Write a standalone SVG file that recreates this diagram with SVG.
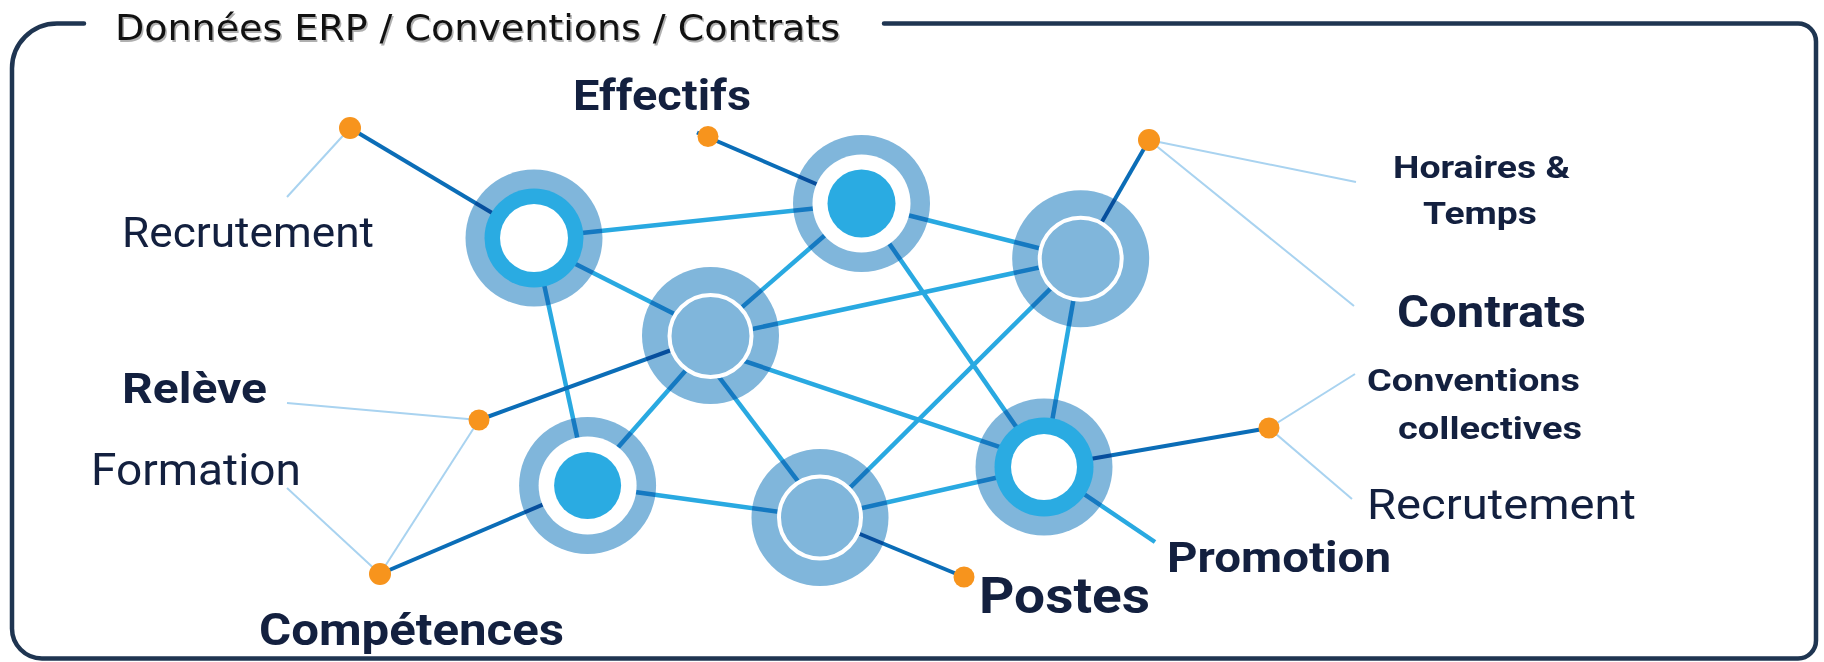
<svg xmlns="http://www.w3.org/2000/svg" width="1824" height="662" viewBox="0 0 1824 662">
<style>
.frame{fill:none;stroke:#1f3551;stroke-width:4.5;stroke-linecap:round}
.link{stroke:#29a9e1;stroke-width:4.5;stroke-linecap:butt}
.dark{stroke:#0b6db7;stroke-width:4;stroke-linecap:butt}
.lead{stroke:#a9d3f0;stroke-width:2}
.halo{fill:#80b6db;mix-blend-mode:multiply}
.cyan{fill:#2aabe2}
.white{fill:#ffffff}
.plain{fill:#80b6db;stroke:#ffffff;stroke-width:4}
.dot{fill:#f7941d}
.lbl{font-family:Roboto,"Liberation Sans",sans-serif;fill:#13203f}
.b{font-weight:bold}
.title{font-family:"DejaVu Sans Condensed","DejaVu Sans","Liberation Sans",sans-serif;font-size:36px;fill:#111111}
.shadow{fill:#b0b0b0}
</style>
<g id="frame">
<path class="frame" d="M84 23.5 H57 A45 45 0 0 0 12 68.5 V628 A30 30 0 0 0 42 658.5 H1798 A18 18 0 0 0 1816 640.5 V41.5 A18 18 0 0 0 1798 23.5 H884"/>
<text x="116.5" y="41.5" class="title shadow" textLength="725" lengthAdjust="spacingAndGlyphs">Données ERP / Conventions / Contrats</text>
<text x="115" y="40" class="title" textLength="725" lengthAdjust="spacingAndGlyphs">Données ERP / Conventions / Contrats</text>
</g>
<g id="connectors">
<line class="link" x1="534" y1="238" x2="861.5" y2="203.5"/>
<line class="link" x1="534" y1="243" x2="710" y2="332"/>
<line class="link" x1="534" y1="238" x2="587.6" y2="485.5"/>
<line class="link" x1="861.5" y1="203.5" x2="1080.7" y2="258.7"/>
<line class="link" x1="861.5" y1="203.5" x2="710" y2="335"/>
<line class="link" x1="861.5" y1="203.5" x2="1044" y2="467"/>
<line class="link" x1="710" y1="338" x2="1080.7" y2="258.7"/>
<line class="link" x1="716" y1="336" x2="584.5" y2="485.5"/>
<line class="link" x1="688" y1="336" x2="825" y2="517"/>
<line class="link" x1="710" y1="349.5" x2="1044" y2="462"/>
<line class="link" x1="1080.7" y1="258.7" x2="820" y2="517.5"/>
<line class="link" x1="1080.7" y1="258.7" x2="1044" y2="467"/>
<line class="link" x1="587.6" y1="485.5" x2="820" y2="517.5"/>
<line class="link" x1="820" y1="517.5" x2="1044" y2="467"/>
<line class="link" x1="1044" y1="467" x2="1155" y2="542"/>
<line class="dark" x1="534" y1="238" x2="350" y2="128"/>
<line class="dark" x1="861.5" y1="203.5" x2="697" y2="132.5"/>
<line class="dark" x1="1080.7" y1="258.7" x2="1149" y2="140"/>
<line class="dark" x1="710" y1="336" x2="479" y2="420"/>
<line class="dark" x1="587.6" y1="485.5" x2="380" y2="574"/>
<line class="dark" x1="820" y1="517.5" x2="964" y2="577"/>
<line class="dark" x1="1044" y1="467" x2="1269" y2="428"/>
<line class="lead" x1="287" y1="197" x2="350" y2="128"/>
<line class="lead" x1="1149" y1="140" x2="1356" y2="182"/>
<line class="lead" x1="1149" y1="140" x2="1354" y2="306"/>
<line class="lead" x1="287" y1="403" x2="479" y2="420"/>
<line class="lead" x1="479" y1="420" x2="380" y2="574"/>
<line class="lead" x1="287" y1="488" x2="380" y2="574"/>
<line class="lead" x1="1269" y1="428" x2="1355" y2="374"/>
<line class="lead" x1="1269" y1="428" x2="1352" y2="499"/>
</g>
<g id="node-a"><circle class="halo" cx="534" cy="238" r="68.5"/><circle class="cyan" cx="534" cy="238" r="49.5"/><circle class="white" cx="534" cy="238" r="34"/></g>
<g id="node-b"><circle class="halo" cx="861.5" cy="203.5" r="68.5"/><circle class="white" cx="861.5" cy="203.5" r="49"/><circle class="cyan" cx="861.5" cy="203.5" r="34"/></g>
<g id="node-c"><circle class="halo" cx="1080.7" cy="258.7" r="68.5"/><circle class="plain" cx="1080.7" cy="258.7" r="41"/></g>
<g id="node-d"><circle class="halo" cx="710.5" cy="335.5" r="68.5"/><circle class="plain" cx="710.5" cy="336" r="41"/></g>
<g id="node-e"><circle class="halo" cx="587.6" cy="485.5" r="68.5"/><circle class="white" cx="587.6" cy="485.5" r="49"/><circle class="cyan" cx="587.6" cy="485.5" r="33.5"/></g>
<g id="node-f"><circle class="halo" cx="820" cy="517.5" r="68.5"/><circle class="plain" cx="820" cy="517.5" r="41"/></g>
<g id="node-g"><circle class="halo" cx="1044" cy="467" r="68.5"/><circle class="cyan" cx="1044" cy="467" r="49.5"/><circle class="white" cx="1044" cy="467" r="33"/></g>
<g id="anchors">
<circle class="dot" cx="350" cy="128" r="11"/>
<circle class="dot" cx="708" cy="136.5" r="10.5"/>
<circle class="dot" cx="1149" cy="140" r="11"/>
<circle class="dot" cx="479" cy="420" r="10.5"/>
<circle class="dot" cx="380" cy="574" r="11"/>
<circle class="dot" cx="964" cy="577" r="10.5"/>
<circle class="dot" cx="1269" cy="428" r="10.5"/>
</g>
<g id="label-recrutement-left"><text class="lbl" x="122" y="247" font-size="42" textLength="252" lengthAdjust="spacingAndGlyphs">Recrutement</text></g>
<g id="label-effectifs"><text class="lbl b" x="573" y="110" font-size="42" textLength="178" lengthAdjust="spacingAndGlyphs">Effectifs</text></g>
<g id="label-horaires"><text class="lbl b" x="1393" y="178" font-size="32" textLength="177" lengthAdjust="spacingAndGlyphs">Horaires &amp;</text><text class="lbl b" x="1423" y="224" font-size="32" textLength="114" lengthAdjust="spacingAndGlyphs">Temps</text></g>
<g id="label-contrats"><text class="lbl b" x="1397" y="327" font-size="44" textLength="189" lengthAdjust="spacingAndGlyphs">Contrats</text></g>
<g id="label-conventions"><text class="lbl b" x="1367" y="391" font-size="32" textLength="213" lengthAdjust="spacingAndGlyphs">Conventions</text><text class="lbl b" x="1398" y="439" font-size="32" textLength="184" lengthAdjust="spacingAndGlyphs">collectives</text></g>
<g id="label-releve"><text class="lbl b" x="122" y="403" font-size="42" textLength="145" lengthAdjust="spacingAndGlyphs">Relève</text></g>
<g id="label-formation"><text class="lbl" x="91" y="485" font-size="44" textLength="210" lengthAdjust="spacingAndGlyphs">Formation</text></g>
<g id="label-recrutement-right"><text class="lbl" x="1367" y="519" font-size="42" textLength="269" lengthAdjust="spacingAndGlyphs">Recrutement</text></g>
<g id="label-promotion"><text class="lbl b" x="1167" y="572" font-size="42" textLength="224" lengthAdjust="spacingAndGlyphs">Promotion</text></g>
<g id="label-postes"><text class="lbl b" x="979" y="613" font-size="50" textLength="171" lengthAdjust="spacingAndGlyphs">Postes</text></g>
<g id="label-competences"><text class="lbl b" x="259" y="645" font-size="44" textLength="305" lengthAdjust="spacingAndGlyphs">Compétences</text></g>
</svg>
